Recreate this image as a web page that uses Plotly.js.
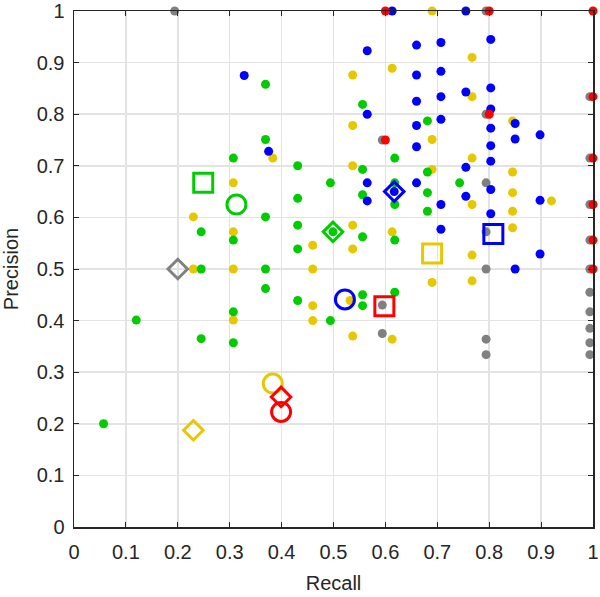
<!DOCTYPE html>
<html>
<head>
<meta charset="utf-8">
<script src="https://cdn.plot.ly/plotly-3.0.1.min.js"></script>
<style>
  html, body { margin: 0; padding: 0; background: #fff; }
  #chart { width: 600px; height: 597px; }
</style>
</head>
<body>
<div id="chart"></div>
<script>
// small dots, one pair of arrays per colour (recall, precision)
const grayX = [0.194, 0.594, 0.594, 0.594, 0.794, 0.794, 0.794, 0.794, 0.794, 0.794, 0.794,
               0.994, 0.994, 0.994, 0.994, 0.994, 0.994, 0.994, 0.994, 0.994, 0.994]
const grayY = [1.0, 0.75, 0.43, 0.375, 1.0, 0.8, 0.667, 0.572, 0.5, 0.364, 0.334,
               0.834, 0.715, 0.625, 0.556, 0.5, 0.455, 0.417, 0.385, 0.357, 0.334]

const yellowX = [0.307, 0.23, 0.307, 0.23, 0.307, 0.307, 0.69, 0.613, 0.537, 0.537,
                 0.69, 0.383, 0.537, 0.69, 0.767, 0.767, 0.845, 0.767, 0.845, 0.845,
                 0.92, 0.767, 0.845, 0.845, 0.767, 0.69, 0.767, 0.537, 0.537, 0.46,
                 0.613, 0.46, 0.532, 0.46, 0.46, 0.537, 0.613]
const yellowY = [0.667, 0.601, 0.572, 0.5, 0.5, 0.401, 1.0, 0.889, 0.876, 0.778,
                 0.751, 0.715, 0.7, 0.693, 0.91, 0.834, 0.787, 0.715, 0.688, 0.648,
                 0.632, 0.625, 0.612, 0.58, 0.527, 0.474, 0.477, 0.585, 0.539, 0.546,
                 0.572, 0.5, 0.439, 0.429, 0.4, 0.37, 0.364]

const greenX = [0.307, 0.245, 0.307, 0.245, 0.12, 0.307, 0.245, 0.307, 0.057, 0.369,
                0.556, 0.681, 0.369, 0.618, 0.431, 0.556, 0.681, 0.743, 0.494, 0.556,
                0.431, 0.618, 0.681, 0.681, 0.369, 0.431, 0.556, 0.431, 0.618, 0.369,
                0.369, 0.431, 0.556, 0.556, 0.618, 0.494, 0.499, 0.618]
const greenY = [0.715, 0.572, 0.556, 0.5, 0.401, 0.417, 0.365, 0.357, 0.2, 0.858,
                0.819, 0.787, 0.751, 0.715, 0.7, 0.693, 0.688, 0.667, 0.667, 0.644,
                0.637, 0.625, 0.648, 0.612, 0.601, 0.585, 0.5625, 0.539, 0.556, 0.5,
                0.462, 0.439, 0.45, 0.429, 0.455, 0.4, 0.572, 0.667]

const blueX = [0.328, 0.613, 0.755, 0.565, 0.66, 0.707, 0.803, 0.66, 0.707, 0.66,
               0.707, 0.755, 0.803, 0.565, 0.66, 0.707, 0.803, 0.85, 0.803, 0.898,
               0.375, 0.66, 0.85, 0.803, 0.803, 0.755, 0.565, 0.565, 0.66, 0.803,
               0.898, 0.755, 0.707, 0.803, 0.707, 0.898, 0.85, 0.617]
const blueY = [0.875, 1.0, 1.0, 0.923, 0.934, 0.939, 0.945, 0.876, 0.883, 0.825,
               0.834, 0.843, 0.851, 0.8, 0.778, 0.79, 0.81, 0.782, 0.773, 0.76,
               0.728, 0.737, 0.752, 0.739, 0.709, 0.697, 0.667, 0.632, 0.667, 0.654,
               0.633, 0.641, 0.625, 0.607, 0.577, 0.529, 0.5, 0.65]

const redX = [0.6, 0.8, 1.0, 0.6, 0.8, 1.0, 1.0, 1.0, 1.0, 1.0]
const redY = [1.0, 1.0, 1.0, 0.75, 0.8, 0.834, 0.715, 0.625, 0.556, 0.5]

// big open markers (group means)
const squareX = [0.249, 0.69, 0.598, 0.808]
const squareY = [0.667, 0.53, 0.428, 0.568]
const circleX = [0.313, 0.383, 0.399, 0.522]
const circleY = [0.625, 0.278, 0.223, 0.441]
const diamondX = [0.2, 0.23, 0.499, 0.399, 0.617]
const diamondY = [0.5, 0.1875, 0.572, 0.252, 0.65]

// tick positions and labels, same on both axes
const tickVals = [0, 0.1, 0.2, 0.3, 0.4, 0.5, 0.6, 0.7, 0.8, 0.9, 1]
const tickText = ["0", "0.1", "0.2", "0.3", "0.4", "0.5", "0.6", "0.7", "0.8", "0.9", "1"]

const GRAY = "#808080", YELLOW = "#E6C800", GREEN = "#00CC00", BLUE = "#0000FF", RED = "#FF0000"
const FONT = "Liberation Sans, Arial, sans-serif"

function dots(x, y, color) {
    return {
        x: x, y: y,
        mode: "markers",
        type: "scatter",
        cliponaxis: false,
        marker: { color: color, size: 9, line: { width: 0 } }
    }
}

function bigMarks(x, y, colors, symbol, size) {
    return {
        x: x, y: y,
        mode: "markers",
        type: "scatter",
        cliponaxis: false,
        marker: { symbol: symbol, color: colors, size: size, line: { width: 3, color: colors } }
    }
}

const traces = [
    dots(grayX, grayY, GRAY),
    dots(yellowX, yellowY, YELLOW),
    dots(greenX, greenY, GREEN),
    dots(blueX, blueY, BLUE),
    dots(redX, redY, RED),
    bigMarks(squareX, squareY, [GREEN, YELLOW, RED, BLUE], "square-open", 19),
    bigMarks(circleX, circleY, [GREEN, YELLOW, RED, BLUE], "circle-open", 19),
    bigMarks(diamondX, diamondY, [GRAY, YELLOW, GREEN, RED, BLUE], "diamond-open", 15)
]

const axisStyle = {
    range: [0, 1],
    tickmode: "array",
    tickvals: tickVals,
    ticktext: tickText,
    ticks: "inside",
    ticklen: 5,
    tickcolor: "#262626",
    showline: true,
    linecolor: "#262626",
    linewidth: 1.5,
    mirror: "allticks",
    showgrid: true,
    gridcolor: "#E3E3E3",
    gridwidth: 1.5,
    zeroline: false,
    ticklabeloverflow: "allow",
    tickfont: { family: FONT, size: 20, color: "#262626" }
}

const layout = {
    width: 600,
    height: 597,
    margin: { l: 74, r: 7, t: 11, b: 70 },
    showlegend: false,
    paper_bgcolor: "#fff",
    plot_bgcolor: "#fff",
    xaxis: Object.assign({}, axisStyle, {
        ticklabelstandoff: 6,
        title: { text: "Recall", standoff: 14, font: { family: FONT, size: 20, color: "#262626" } }
    }),
    yaxis: Object.assign({}, axisStyle, {
        ticklabelstandoff: 4,
        title: { text: "Precision", standoff: 12, font: { family: FONT, size: 20, color: "#262626" } }
    })
}

Plotly.newPlot("chart", traces, layout, { displayModeBar: false, staticPlot: true })
</script>
</body>
</html>
